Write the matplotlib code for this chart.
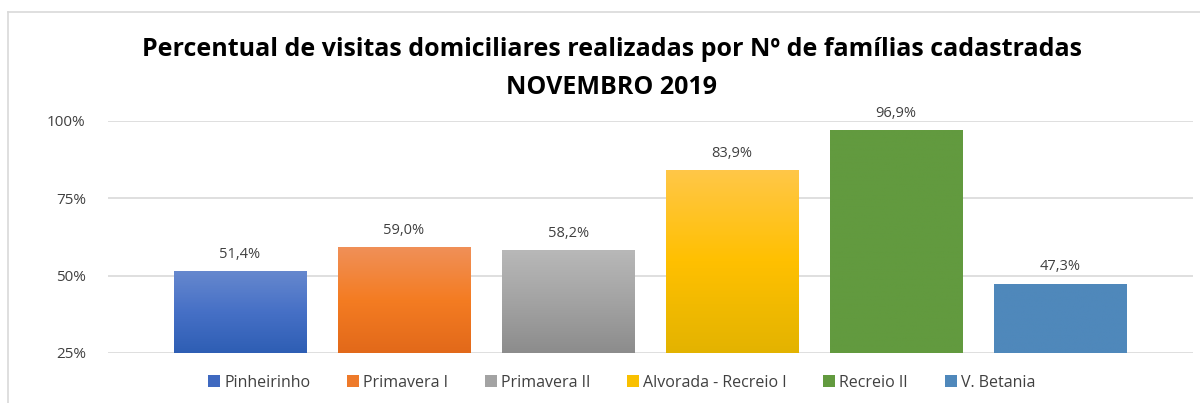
import numpy as np
import matplotlib.pyplot as plt
from matplotlib.lines import Line2D
from matplotlib.patches import Patch
from matplotlib.colors import LinearSegmentedColormap

# Data
categories = ['Pinheirinho', 'Primavera I', 'Primavera II', 'Alvorada - Recreio I', 'Recreio II', 'V. Betania']
values = [51.4, 59.0, 58.2, 83.9, 96.9, 47.3]
# (top, mid, bottom) colours of each bar gradient
bar_top = ['#6688CE', '#F09058', '#B8B8B8', '#FFC748', '#629A3F', '#4F88BB']
bar_mid = ['#4670C6', '#F47C22', '#A3A3A3', '#FFC000', '#629A3F', '#4F88BB']
bar_bot = ['#2E5EB4', '#E2691A', '#8C8C8C', '#E3B300', '#629A3F', '#4F88BB']
legend_colors = ['#3F69C0', '#EE7A2A', '#A3A3A3', '#F9C000', '#629A3F', '#4F88BB']

title = 'Percentual de visitas domiciliares realizadas por Nº de famílias cadastradas\nNOVEMBRO 2019'

plt.rcParams['font.family'] = ['Open Sans', 'DejaVu Sans']

fig = plt.figure(figsize=(12, 4.03), dpi=100)
ax = fig.add_axes([108 / 1200, 50 / 403, 1085 / 1200, 232 / 403])

x = np.arange(len(categories))
width = 0.81
ymin, ymax = 25, 100

bars = ax.bar(x, values, width=width, color=bar_mid, zorder=2)

# vertical gradients on the bars
for rect, top, mid, bot in zip(bars, bar_top, bar_mid, bar_bot):
    cmap = LinearSegmentedColormap.from_list('g', [bot, mid, top])
    x0 = rect.get_x()
    x1 = x0 + rect.get_width()
    y1 = rect.get_height()
    grad = np.linspace(0, 1, 256).reshape(-1, 1)
    ax.imshow(grad, cmap=cmap, origin='lower', aspect='auto',
              extent=[x0, x1, ymin, y1], zorder=3)

for xi, v in zip(x, values):
    ax.annotate(f'{v:.1f}%'.replace('.', ','), (xi, v), xytext=(0, 7),
                textcoords='offset points', ha='center', va='bottom',
                fontsize=10.5, color='#404040', clip_on=False, zorder=5)

ax.set_xlim(-0.805, 5.81)
ax.set_ylim(ymin, ymax)
ax.set_yticks([25, 50, 75, 100])
ax.set_yticklabels(['25%', '50%', '75%', '100%'])
ax.set_xticks([])
ax.tick_params(axis='y', length=0, labelsize=11, labelcolor='#404040', pad=16)
ax.yaxis.grid(True, color='#D9D9D9', linewidth=1.2, zorder=0)
for s in ax.spines.values():
    s.set_visible(False)

fig.text(0.51, 0.83, title, ha='center', va='center', fontsize=18,
         fontweight='bold', color='black', linespacing=1.65)

handles = [Patch(facecolor=c) for c in legend_colors]
fig.legend(handles, categories, loc='center', bbox_to_anchor=(0.518, 0.05), ncol=6,
           frameon=False, fontsize=11.5, handlelength=0.75, handleheight=0.8,
           handletextpad=0.25, columnspacing=2.3, labelcolor='#404040')

# chart border
fig.add_artist(Line2D([8 / 1200, 8 / 1200], [0, 1 - 12 / 403], color='#D9D9D9', lw=1.2))
fig.add_artist(Line2D([8 / 1200, 1], [1 - 12 / 403, 1 - 12 / 403], color='#D9D9D9', lw=1.2))

fig.savefig('out.png', dpi=100)
